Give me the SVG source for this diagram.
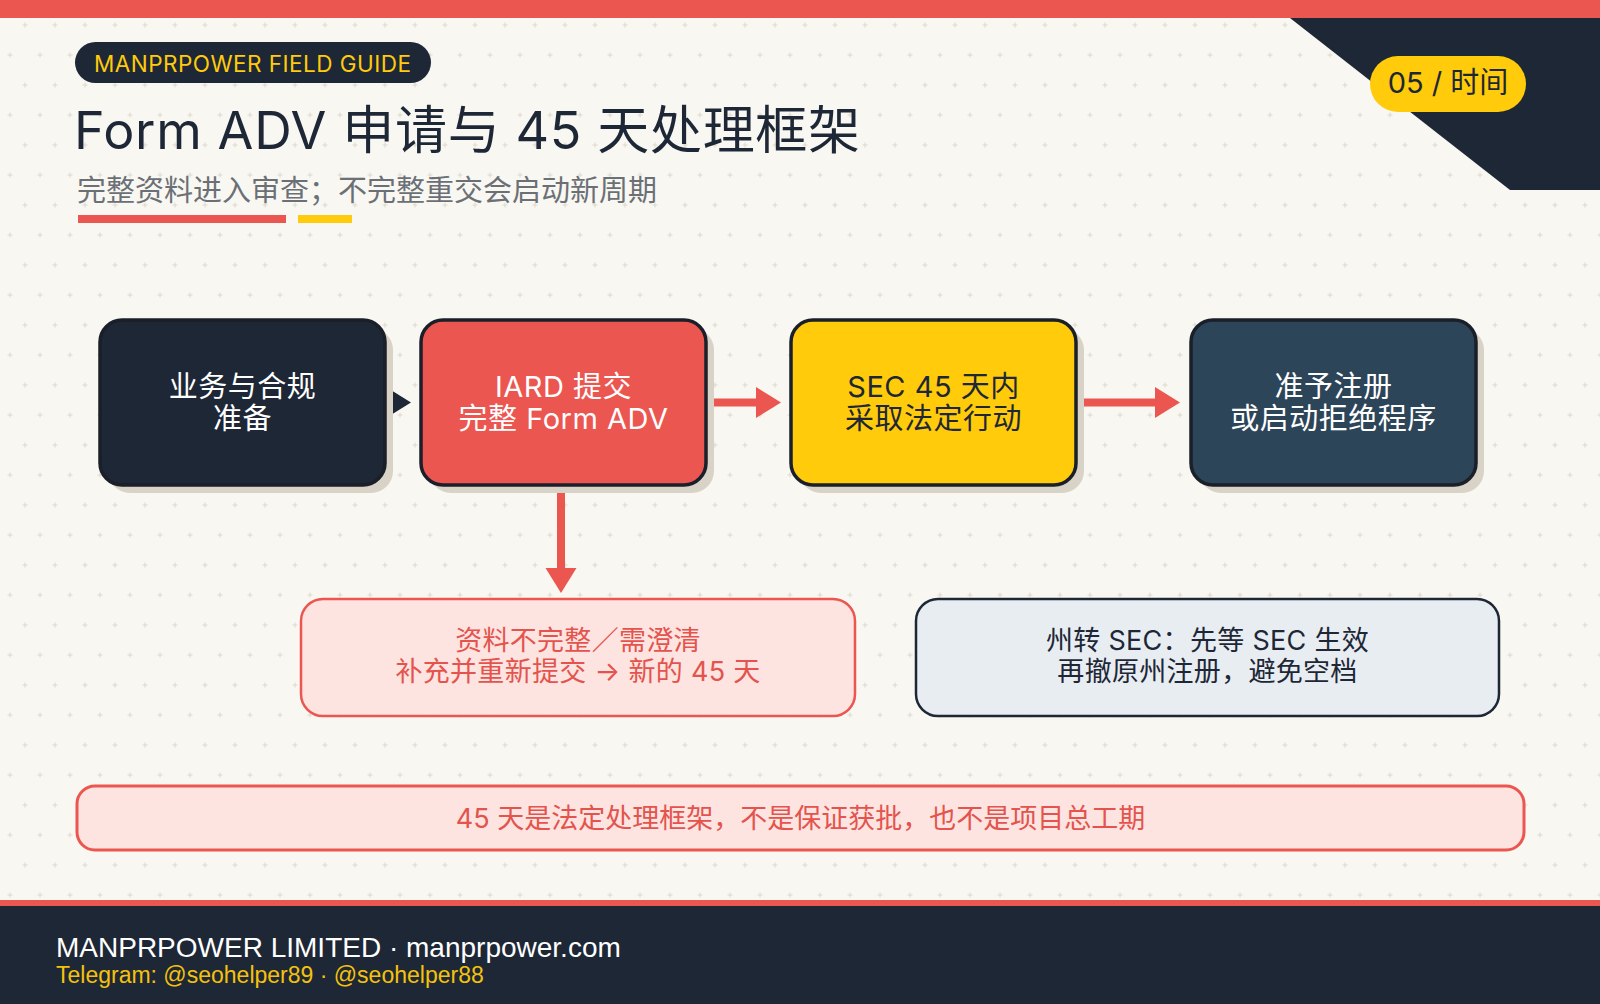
<svg xmlns="http://www.w3.org/2000/svg" width="1600" height="1004" viewBox="0 0 1600 1004">
<style>
.sans{font-family:Inter,"Noto Sans CJK SC",sans-serif}
.foot{font-family:"Liberation Sans","Noto Sans CJK SC",sans-serif}
.node{stroke:#1a1f29;stroke-width:3.5}
.shadow{fill:#d8d3c6}
.nt{font-size:29px;text-anchor:middle;letter-spacing:0.5px}
.bt{font-size:27px;text-anchor:middle;letter-spacing:0.3px}
.redline{stroke:#ec5650;stroke-width:8;fill:none}
</style>
<defs>
<pattern id="dots" width="30" height="60" patternUnits="userSpaceOnUse">
<path d="M22.5 25h5M25 22.5v5M7.5 55h5M10 52.5v5" stroke="#dcd8cc" stroke-width="1"/>
</pattern>
<marker id="headRed" markerUnits="userSpaceOnUse" markerWidth="26" markerHeight="32" refX="0" refY="15.5" orient="auto" overflow="visible">
<path d="M0 0L25 15.5L0 31z" fill="#ec5650"/>
</marker>
<marker id="headDark" markerUnits="userSpaceOnUse" markerWidth="26" markerHeight="32" refX="0" refY="15.5" orient="auto" overflow="visible">
<path d="M0 0L25 15.5L0 31z" fill="#1e2736"/>
</marker>
</defs>
<rect width="1600" height="1004" fill="#f8f7f1"/>
<rect width="1600" height="900" fill="url(#dots)"/>
<rect width="1600" height="18" fill="#ec5650"/>
<polygon points="1290,18 1600,18 1600,190 1510,190" fill="#1e2736"/>

<g id="badge">
<rect x="1370" y="56" width="156" height="56" rx="28" fill="#ffcb0a"/>
<text x="1448" y="93" class="sans" font-size="29" text-anchor="middle" fill="#1e2736">05 / 时间</text>
</g>

<g id="header">
<rect x="75" y="42" width="356" height="41" rx="20.5" fill="#1e2736"/>
<text x="94" y="71.5" class="sans" font-size="22.5" textLength="317" lengthAdjust="spacing" fill="#ffcb0a">MANPRPOWER FIELD GUIDE</text>
<text x="74" y="149" class="sans" font-size="52" textLength="786" lengthAdjust="spacing" fill="#1e2736">Form ADV 申请与 45 天处理框架</text>
<text x="77" y="201" class="sans" font-size="29" fill="#6b6f76">完整资料进入审查；不完整重交会启动新周期</text>
<rect x="78" y="215" width="208" height="8" fill="#ec5650"/>
<rect x="298" y="215" width="54" height="8" fill="#ffcb0a"/>
</g>

<g id="connectors">
<line x1="375" y1="402.5" x2="386" y2="402.5" stroke="#1e2736" stroke-width="8" marker-end="url(#headDark)"/>
<line x1="712" y1="402.5" x2="756" y2="402.5" class="redline" marker-end="url(#headRed)"/>
<line x1="1083" y1="402.5" x2="1155" y2="402.5" class="redline" marker-end="url(#headRed)"/>
<line x1="561" y1="490" x2="561" y2="568" class="redline" marker-end="url(#headRed)"/>
</g>

<g id="node-prep">
<rect x="108" y="328" width="285" height="165" rx="22" class="shadow"/>
<rect x="100" y="320" width="285" height="165" rx="22" fill="#1e2736" class="node"/>
<text class="sans nt" fill="#ffffff"><tspan x="242.5" y="397">业务与合规</tspan><tspan x="242.5" y="429">准备</tspan></text>
</g>

<g id="node-iard">
<rect x="429" y="328" width="285" height="165" rx="22" class="shadow"/>
<rect x="421" y="320" width="285" height="165" rx="22" fill="#ec5650" class="node"/>
<text class="sans nt" fill="#ffffff"><tspan x="563.5" y="397">IARD 提交</tspan><tspan x="563.5" y="429">完整 Form ADV</tspan></text>
</g>

<g id="node-sec">
<rect x="799" y="328" width="285" height="165" rx="22" class="shadow"/>
<rect x="791" y="320" width="285" height="165" rx="22" fill="#ffcb0a" class="node"/>
<text class="sans nt" fill="#1e2736"><tspan x="933.5" y="397">SEC 45 天内</tspan><tspan x="933.5" y="429">采取法定行动</tspan></text>
</g>

<g id="node-result">
<rect x="1199" y="328" width="285" height="165" rx="22" class="shadow"/>
<rect x="1191" y="320" width="285" height="165" rx="22" fill="#2d4559" class="node"/>
<text class="sans nt" fill="#ffffff"><tspan x="1333.5" y="397">准予注册</tspan><tspan x="1333.5" y="429">或启动拒绝程序</tspan></text>
</g>

<g id="node-incomplete">
<rect x="301" y="599" width="554" height="117" rx="22" fill="#fde4e0" stroke="#ec5650" stroke-width="2.5"/>
<text class="sans bt" fill="#e4534d"><tspan x="578" y="650">资料不完整／需澄清</tspan><tspan x="578" y="681">补充并重新提交 → 新的 45 天</tspan></text>
</g>

<g id="node-state">
<rect x="916" y="599" width="583" height="117" rx="22" fill="#e8edf2" stroke="#1e2736" stroke-width="2.5"/>
<text class="sans bt" fill="#1e2736"><tspan x="1207.5" y="650">州转 SEC：先等 SEC 生效</tspan><tspan x="1207.5" y="681">再撤原州注册，避免空档</tspan></text>
</g>

<g id="note">
<rect x="77" y="786" width="1447" height="64" rx="18" fill="#fde4e0" stroke="#ec5650" stroke-width="3"/>
<text x="800.5" y="828" class="sans" font-size="27" text-anchor="middle" fill="#e4534d">45 天是法定处理框架，不是保证获批，也不是项目总工期</text>
</g>

<g id="footer">
<rect x="0" y="900" width="1600" height="6" fill="#ec5650"/>
<rect x="0" y="906" width="1600" height="98" fill="#1e2736"/>
<text x="56" y="957" class="foot" font-size="28" fill="#ffffff">MANPRPOWER LIMITED · manprpower.com</text>
<text x="56" y="983" class="foot" font-size="23" fill="#f4c20d">Telegram: @seohelper89 · @seohelper88</text>
</g>
</svg>
